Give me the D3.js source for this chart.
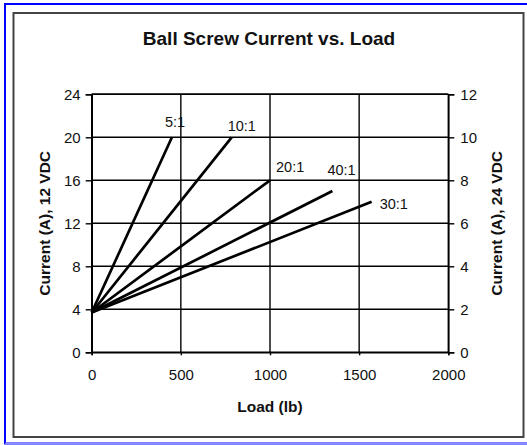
<!DOCTYPE html>
<html>
<head>
<meta charset="utf-8">
<script src="https://cdn.jsdelivr.net/npm/d3@7"></script>
<style>
  body { margin: 0; background: #fff; }
  text { font-family: "Liberation Sans", Arial, sans-serif; fill: #111; }
</style>
</head>
<body>
<svg id="chart" width="527" height="445"></svg>
<script>
// gear ratios and their line end points (load lb, current A at 12 VDC)
let ratios = ["5:1", "10:1", "20:1", "40:1", "30:1"];
let startLoad = [0, 0, 0, 0, 0];
let startCurrent = [3.7, 3.7, 3.7, 3.7, 3.7];
let endLoad = [450, 785, 1000, 1350, 1570];
let endCurrent = [20, 20, 16, 15, 14];

let xTicks = [0, 500, 1000, 1500, 2000];
let yLeftTicks = [0, 4, 8, 12, 16, 20, 24];
let yRightTicks = [0, 2, 4, 6, 8, 10, 12];

// label nudges relative to line end
let labelDx = [-7, -4, 6, -5, 8];
let labelDy = [-10, -6, -8, -16, 7];

let svg = d3.select("#chart");

// frames
svg.append("rect").attr("x", 5).attr("y", 4).attr("width", 540).attr("height", 439.5)
    .attr("fill", "none").attr("stroke", "#0000ff").attr("stroke-width", 2);
svg.append("line").attr("x1", 5).attr("x2", 527).attr("y1", 443.5).attr("y2", 443.5)
    .attr("stroke", "#8888ff").attr("stroke-width", 1.5);
svg.append("rect").attr("x", 13.5).attr("y", 13).attr("width", 510).attr("height", 424)
    .attr("fill", "#fff").attr("stroke", "#444").attr("stroke-width", 2);

let pLeft = 91.7, pRight = 448.3, pTop = 94.3, pBottom = 352.3;

let x = d3.scaleLinear().domain([0, 2000]).range([pLeft, pRight]);
let yL = d3.scaleLinear().domain([0, 24]).range([pBottom, pTop]);
let yR = d3.scaleLinear().domain([0, 12]).range([pBottom, pTop]);

let g = svg.append("g");

// gridlines
g.selectAll(".hgrid").data(yLeftTicks).enter().append("line")
    .attr("x1", pLeft).attr("x2", pRight)
    .attr("y1", d => yL(d)).attr("y2", d => yL(d))
    .attr("stroke", "#000").attr("stroke-width", 1.4);
g.selectAll(".vgrid").data(xTicks).enter().append("line")
    .attr("x1", d => x(d)).attr("x2", d => x(d))
    .attr("y1", pTop).attr("y2", pBottom)
    .attr("stroke", "#000").attr("stroke-width", 1.4);

// axes
let axisLeft = d3.axisLeft(yL).tickValues(yLeftTicks).tickSize(6).tickPadding(5);
let axisRight = d3.axisRight(yR).tickValues(yRightTicks).tickSize(6).tickPadding(6);
let axisBottom = d3.axisBottom(x).tickValues(xTicks).tickSize(3).tickPadding(14)
    .tickFormat(d3.format("d"));

function styleAxis(sel) {
    sel.select(".domain").attr("stroke", "#000").attr("stroke-width", 1.6);
    sel.selectAll(".tick line").attr("stroke", "#000").attr("stroke-width", 1.4);
    sel.selectAll(".tick text").attr("font-size", 15)
        .attr("font-family", "Liberation Sans, Arial, sans-serif").attr("fill", "#111");
}

g.append("g").attr("transform", "translate(" + pLeft + ",0)").call(axisLeft).call(styleAxis);
g.append("g").attr("transform", "translate(" + pRight + ",0)").call(axisRight).call(styleAxis);
g.append("g").attr("transform", "translate(0," + pBottom + ")").call(axisBottom).call(styleAxis);
// top border of plot
g.append("line").attr("x1", pLeft).attr("x2", pRight).attr("y1", pTop).attr("y2", pTop)
    .attr("stroke", "#000").attr("stroke-width", 1.6);

// series lines
let idx = d3.range(ratios.length);
g.selectAll(".series").data(idx).enter().append("line")
    .attr("x1", i => x(startLoad[i])).attr("y1", i => yL(startCurrent[i]))
    .attr("x2", i => x(endLoad[i])).attr("y2", i => yL(endCurrent[i]))
    .attr("stroke", "#000").attr("stroke-width", 2.7);

g.selectAll(".lbl").data(idx).enter().append("text")
    .attr("x", i => x(endLoad[i]) + labelDx[i])
    .attr("y", i => yL(endCurrent[i]) + labelDy[i])
    .attr("font-size", 14.5)
    .text(i => ratios[i]);

// titles
svg.append("text").attr("x", 269).attr("y", 45).attr("text-anchor", "middle")
    .attr("font-size", 19).attr("font-weight", "bold").text("Ball Screw Current vs. Load");
svg.append("text").attr("x", (pLeft + pRight) / 2).attr("y", 412).attr("text-anchor", "middle")
    .attr("font-size", 15.5).attr("font-weight", "bold").text("Load (lb)");
svg.append("text").attr("transform", "translate(50," + (pTop + pBottom) / 2 + ") rotate(-90)")
    .attr("text-anchor", "middle").attr("font-size", 15.5).attr("font-weight", "bold")
    .text("Current (A), 12 VDC");
svg.append("text").attr("transform", "translate(502," + (pTop + pBottom) / 2 + ") rotate(-90)")
    .attr("text-anchor", "middle").attr("font-size", 15.5).attr("font-weight", "bold")
    .text("Current (A), 24 VDC");
</script>
</body>
</html>
